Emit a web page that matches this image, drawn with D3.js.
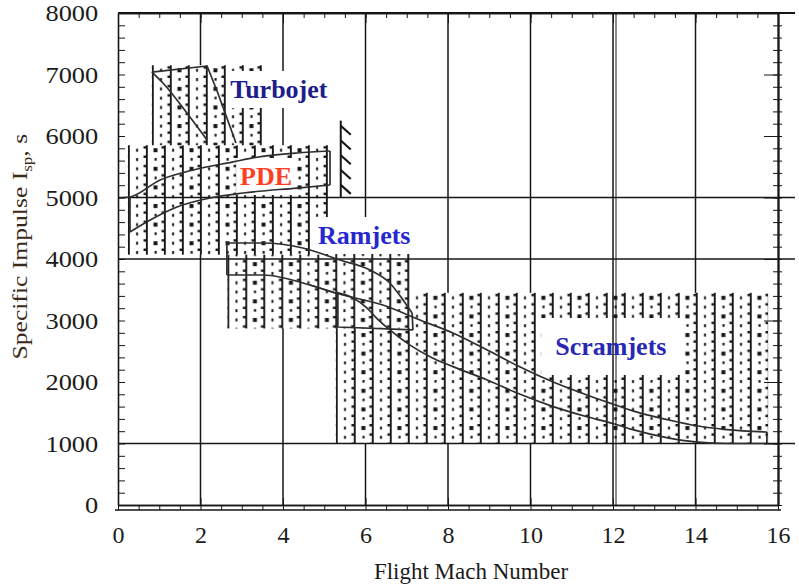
<!DOCTYPE html>
<html>
<head>
<meta charset="utf-8">
<script src="https://cdn.jsdelivr.net/npm/d3@7"></script>
<style>
  body { margin: 0; background: #fff; }
  svg { display: block; }
  text { font-family: "Liberation Serif", "Times New Roman", serif; }
</style>
</head>
<body>
<svg id="chart" width="799" height="586"></svg>
<script>
// ---- data (Mach number, specific impulse in s) ----
const machTicks = [0, 2, 4, 6, 8, 10, 12, 14, 16];
const ispTicks = [0, 1000, 2000, 3000, 4000, 5000, 6000, 7000, 8000];
const gridIsp = [5000, 4000, 1000];
const gridMachBehind = [2, 4, 6, 8, 10, 14];
const gridMachFront = [12];

// shaded boxes: [machMin, machMax, ispMin, ispMax]
const scramjetBox = [5.28, 15.76, 1000, 3450];
const ramjetBox = [2.65, 7.15, 2870, 4300];
const pdeBox = [0.24, 5.15, 4070, 5850];
const turbojetBox = [0.82, 3.6, 5850, 7150];

// envelopes
const turbojetTop = [[0.82, 7040], [2.16, 7138]];
const turbojetRight = [[2.16, 7138], [2.42, 6700], [2.86, 5886]];
const turbojetInner = [[0.82, 7040], [1.09, 6862], [1.67, 6374], [2.16, 5935]];

const pdeUpper = [[0, 4992], [0.29, 5008], [1.02, 5285], [1.82, 5447], [2.79, 5580], [3.37, 5655], [4.34, 5724], [5.14, 5756]];
const pdeLower = [[0.29, 4439], [0.78, 4634], [1.43, 4846], [2.23, 4992], [3.03, 5073], [4.34, 5154], [5.14, 5203]];
const pdeLeft = [[0.29, 4439], [0.29, 5008]];
const pdeRight = [[5.14, 5203], [5.14, 5756]];

const ramjetUpper = [[2.64, 4260], [3.52, 4260], [4.48, 4179], [5.38, 3984], [6.11, 3821], [6.59, 3610], [6.91, 3333], [7.13, 3122]];
const ramjetLower = [[2.64, 3740], [3.52, 3740], [4.65, 3577], [5.33, 3430]];
const ramjetLeft = [[2.64, 3740], [2.64, 4260]];
const ramjetRight = [[7.13, 3122], [7.15, 2846]];
const ramjetBottom = [[5.33, 3430], [5.33, 2894], [7.15, 2846]];

const scramjetUpper = [[4.65, 3577], [5.45, 3415], [6.42, 3252], [7.32, 3008], [8.12, 2797], [8.95, 2520], [9.75, 2244], [10.55, 2000], [11.37, 1789], [12.0, 1640], [12.48, 1530], [13.3, 1390], [14.1, 1280], [14.76, 1225], [15.73, 1187]];
const scramjetLower = [[5.3, 3460], [5.7, 3366], [6.04, 3203], [6.28, 3030], [6.59, 2846], [7.08, 2600], [7.6, 2400], [8.12, 2250], [8.95, 2033], [9.75, 1800], [10.55, 1600], [11.37, 1435], [12.0, 1325], [12.48, 1225], [13.3, 1095], [14.0, 1025], [14.8, 1000], [15.73, 1000]];
const scramjetRight = [[15.73, 1000], [15.73, 1187]];

// hatched limit near Mach 5.4
const wallMach = 5.4;
const wallIsp = [5000, 6250];

// labels
const labelNames = ["Turbojet", "PDE", "Ramjets", "Scramjets"];
const labelMach = [2.72, 2.96, 4.85, 10.6];
const labelIsp = [6618, 5203, 4244, 2439];

// ---- chart ----
const svg = d3.select("#chart");
svg.append("rect").attr("width", 799).attr("height", 586).attr("fill", "#fff");

const x = d3.scaleLinear().domain([0, 16]).range([118, 778]);
const y = d3.scaleLinear().domain([0, 8000]).range([505, 13]);
const ink = "#161616";
const xEnd = 795;

const defs = svg.append("defs");

// stipple pattern (dotted column lines as in the scanned figure)
function stipple(id, px, py) {
  const w = 36, h = 18.6;
  const p = defs.append("pattern").attr("id", id)
    .attr("patternUnits", "userSpaceOnUse")
    .attr("x", px).attr("y", py).attr("width", w).attr("height", h);
  p.append("rect").attr("width", w).attr("height", h).attr("fill", "#fff");
  [0, 18].forEach(cx => {
    p.append("rect").attr("x", cx).attr("y", 0).attr("width", 1.9).attr("height", h).attr("fill", ink);
  });
  [0, h / 2].forEach(cy => {
    p.append("rect").attr("x", 15.6).attr("y", cy + 1).attr("width", 2.4).attr("height", 2.4).attr("fill", ink);
    p.append("rect").attr("x", 33.6).attr("y", cy + 1).attr("width", 2.4).attr("height", 2.4).attr("fill", ink);
    p.append("rect").attr("x", 8.2).attr("y", cy + 3.5).attr("width", 2).attr("height", 3).attr("fill", ink);
  });
  p.append("rect").attr("x", 25.6).attr("y", 3).attr("width", 4).attr("height", 4).attr("fill", ink);
  p.append("rect").attr("x", 26.6).attr("y", h / 2 + 3.5).attr("width", 2.2).attr("height", 2.6).attr("fill", ink);
}

const gBehind = svg.append("g");
gBehind.selectAll("line").data(gridMachBehind).enter().append("line")
  .attr("x1", d => x(d)).attr("x2", d => x(d))
  .attr("y1", y(8000)).attr("y2", y(0))
  .attr("stroke", ink).attr("stroke-width", 1.5);

const gBoxes = svg.append("g");
[["scramjet", scramjetBox], ["ramjet", ramjetBox], ["pde", pdeBox], ["turbojet", turbojetBox]].forEach(([id, b]) => {
  stipple("pat-" + id, x(b[0]), y(b[3]));
  gBoxes.append("rect")
    .attr("x", x(b[0])).attr("y", y(b[3]))
    .attr("width", x(b[1]) - x(b[0])).attr("height", y(b[2]) - y(b[3]))
    .attr("fill", "url(#pat-" + id + ")");
});

const gLabelBg = svg.append("g");

// grid lines drawn over the shading
const gFront = svg.append("g");
gFront.selectAll("line.h").data(gridIsp).enter().append("line").attr("class", "h")
  .attr("x1", x(0)).attr("x2", xEnd)
  .attr("y1", d => y(d)).attr("y2", d => y(d))
  .attr("stroke", ink).attr("stroke-width", 1.5);
gFront.selectAll("line.v").data(gridMachFront).enter().append("line").attr("class", "v")
  .attr("x1", d => x(d)).attr("x2", d => x(d))
  .attr("y1", y(8000)).attr("y2", y(0))
  .attr("stroke", ink).attr("stroke-width", 1.5);
gFront.selectAll("line.v2").data(gridMachFront).enter().append("line").attr("class", "v2")
  .attr("x1", d => x(d) + 3).attr("x2", d => x(d) + 3)
  .attr("y1", y(8000)).attr("y2", y(0))
  .attr("stroke", ink).attr("stroke-width", 1);

// envelope curves
const smooth = d3.line().x(d => x(d[0])).y(d => y(d[1])).curve(d3.curveMonotoneX);
const straight = d3.line().x(d => x(d[0])).y(d => y(d[1]));
const gCurves = svg.append("g").attr("fill", "none").attr("stroke", "#2e2e2e").attr("stroke-width", 1.7);
[turbojetInner, pdeUpper, pdeLower, ramjetUpper, ramjetLower, scramjetUpper, scramjetLower].forEach(s => {
  gCurves.append("path").attr("d", smooth(s));
});
[turbojetTop, turbojetRight, pdeLeft, pdeRight, ramjetLeft, ramjetRight, ramjetBottom, scramjetRight].forEach(s => {
  gCurves.append("path").attr("d", straight(s));
});

// hatched wall
const gWall = svg.append("g").attr("stroke", ink);
gWall.append("line")
  .attr("x1", x(wallMach)).attr("x2", x(wallMach))
  .attr("y1", y(wallIsp[1])).attr("y2", y(wallIsp[0]))
  .attr("stroke-width", 2);
gWall.selectAll("line.hatch").data(d3.range(wallIsp[0] + 60, wallIsp[1], 240)).enter().append("line")
  .attr("class", "hatch")
  .attr("x1", x(wallMach)).attr("y1", d => y(d) - 9)
  .attr("x2", x(wallMach) + 10).attr("y2", d => y(d))
  .attr("stroke-width", 2.2);

// ---- axes ----
function minor(g) { g.attr("color", ink).selectAll(".domain").attr("stroke-width", 1.6); }

// left
svg.append("g").attr("transform", `translate(${x(0)},0)`)
  .call(d3.axisRight(y).tickValues(d3.range(0, 8001, 200)).tickSize(7).tickSizeOuter(0).tickFormat(""))
  .call(minor);
const yLab = svg.append("g").attr("transform", `translate(${x(0)},0)`)
  .call(d3.axisLeft(y).tickValues(ispTicks).tickSize(0).tickPadding(18).tickFormat(d3.format("d")));
yLab.select(".domain").remove();
yLab.selectAll("text").attr("font-size", 24).attr("fill", "#1b1b1b")
  .attr("font-family", "Liberation Serif, serif")
  .attr("transform", "scale(1.1,1)");

// right
svg.append("g").attr("transform", `translate(${x(16)},0)`)
  .call(d3.axisLeft(y).tickValues(d3.range(0, 8001, 200)).tickSize(5).tickSizeOuter(0).tickFormat(""))
  .call(minor);
svg.append("g").attr("transform", `translate(${x(16)},0)`)
  .call(d3.axisRight(y).tickValues(d3.range(0, 8001, 200)).tickSize(4).tickSizeOuter(0).tickFormat(""))
  .call(minor);
svg.append("g").attr("transform", `translate(${x(16)},0)`)
  .call(d3.axisLeft(y).tickValues(ispTicks).tickSize(14).tickSizeOuter(0).tickFormat(""))
  .call(minor);

// top
svg.append("line").attr("x1", x(0)).attr("x2", xEnd).attr("y1", y(8000)).attr("y2", y(8000))
  .attr("stroke", ink).attr("stroke-width", 1.8);
svg.append("g").attr("transform", `translate(0,${y(8000)})`)
  .call(d3.axisBottom(x).tickValues(d3.range(0, 16.01, 0.5)).tickSize(5).tickSizeOuter(0).tickFormat(""))
  .call(minor);
svg.append("g").attr("transform", `translate(0,${y(8000)})`)
  .call(d3.axisBottom(x).tickValues(machTicks).tickSize(10).tickSizeOuter(0).tickFormat(""))
  .call(minor);

// bottom (double rule with ticks between)
svg.append("g").attr("transform", `translate(0,${y(0)})`)
  .call(d3.axisBottom(x).tickValues(d3.range(0, 16.01, 0.5)).tickSize(5).tickSizeOuter(0).tickFormat(""))
  .call(minor);
svg.append("line").attr("x1", x(0) - 3).attr("x2", x(16) + 3).attr("y1", y(0) + 5).attr("y2", y(0) + 5)
  .attr("stroke", ink).attr("stroke-width", 1.6);
svg.append("g").attr("transform", `translate(0,${y(0)})`)
  .call(d3.axisTop(x).tickValues(machTicks).tickSize(7).tickSizeOuter(0).tickFormat(""))
  .call(minor);
const xLab = svg.append("g").attr("transform", `translate(0,${y(0)})`)
  .call(d3.axisBottom(x).tickValues(machTicks).tickSize(0).tickPadding(21));
xLab.select(".domain").remove();
xLab.selectAll("text").attr("font-size", 24).attr("fill", "#1b1b1b")
  .attr("font-family", "Liberation Serif, serif");

// axis titles
svg.append("text")
  .attr("x", (x(0) + x(16)) / 2 + 23).attr("y", 579)
  .attr("text-anchor", "middle").attr("font-size", 23).attr("fill", "#1b1b1b")
  .text("Flight Mach Number");

const yt = svg.append("text")
  .attr("transform", `translate(27,${y(4200)}) rotate(-90) scale(1.22,1)`)
  .attr("text-anchor", "middle").attr("font-size", 21).attr("fill", "#3a2a1a");
yt.append("tspan").text("Specific Impulse  I");
yt.append("tspan").attr("font-size", 14).attr("dy", 5).text("sp");
yt.append("tspan").attr("dy", -5).text(", s");

// region labels
const labelColors = ["#1d1d8c", "#ff3d1f", "#2626d2", "#2828b4"];
const gLabels = svg.append("g");
labelNames.forEach((name, i) => {
  const t = gLabels.append("text")
    .attr("x", x(labelMach[i])).attr("y", y(labelIsp[i]))
    .attr("font-size", 26).attr("font-weight", "bold")
    .attr("fill", labelColors[i]).text(name);
  const bb = t.node().getBBox();
  const pad = name === "Scramjets" ? 14 : 4;
  gLabelBg.append("rect")
    .attr("x", bb.x - pad).attr("y", bb.y - pad)
    .attr("width", bb.width + pad * 2).attr("height", bb.height + pad * 2)
    .attr("fill", "#fff");
});
</script>
</body>
</html>
